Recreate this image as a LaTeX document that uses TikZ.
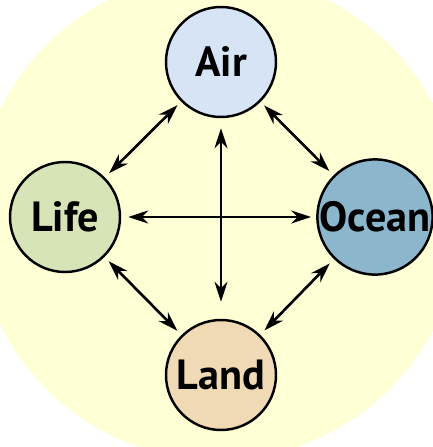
\documentclass[tikz,border=0pt]{standalone}
\usepackage{fontspec}
\setmainfont{PT Sans}
\usetikzlibrary{arrows.meta, positioning}

\definecolor{bgyellow}{RGB}{255,255,214}
\definecolor{airblue}{RGB}{214,228,246}
\definecolor{lifegreen}{RGB}{214,228,183}
\definecolor{oceanblue}{RGB}{140,182,204}
\definecolor{landtan}{RGB}{240,218,182}

\begin{document}
\begin{tikzpicture}[
    sphere/.style={circle, draw=black, line width=1.4pt, minimum size=2.2cm, inner sep=0pt, font=\fontsize{24}{26}\selectfont\bfseries},
    arrow/.style={line width=1.5pt, {Stealth[length=0.4cm, width=0.26cm]}-{Stealth[length=0.4cm, width=0.26cm]}}
]

% Background
\useasboundingbox (-4.36,-4.60) rectangle (4.30,4.34);
\clip (-4.36,-4.60) rectangle (4.30,4.34);
\fill[white] (-4.36,-4.60) rectangle (4.30,4.34);
\fill[bgyellow] (0,0) circle (4.86cm);

% Nodes
\node (air) [sphere, fill=airblue] at (0.06,3.10) {Air};
\node (life) [sphere, fill=lifegreen] at (-3.06,0) {Life};
\node (ocean) [sphere, fill=oceanblue] at (3.14,0) {Ocean};
\node (land) [sphere, fill=landtan] at (0.06,-3.16) {Land};

% Arrows
\draw [arrow, shorten <=0.2cm, shorten >=0.34cm] (air) -- (land);
\draw [arrow, shorten <=0.14cm, shorten >=0.1cm] (life) -- (ocean);
\draw [arrow, shorten <=0.12cm, shorten >=0.1cm] (life) -- (air);
\draw [arrow, shorten <=0.1cm, shorten >=0.12cm] (air) -- (ocean);
\draw [arrow, shorten <=0.12cm, shorten >=0.12cm] (life) -- (land);
\draw [arrow, shorten <=0.12cm, shorten >=0.12cm] (ocean) -- (land);

\end{tikzpicture}
\end{document}
